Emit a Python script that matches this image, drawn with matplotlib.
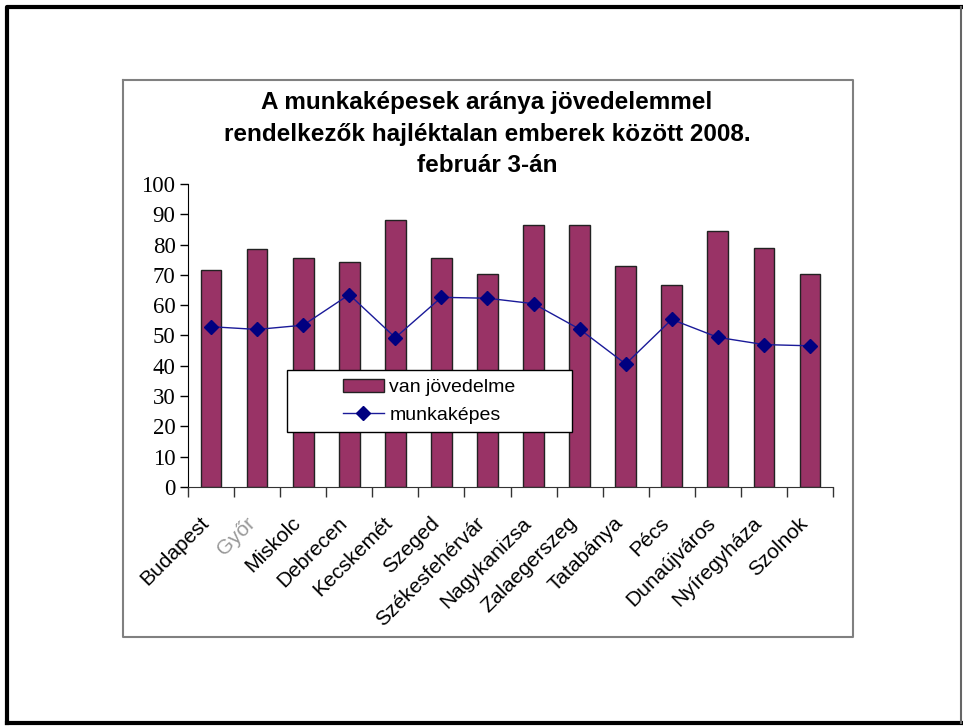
import matplotlib.pyplot as plt
from matplotlib.lines import Line2D
from matplotlib.patches import Rectangle
import matplotlib.transforms as mtransforms
import numpy as np

# data
cities = ['Budapest', 'Győr', 'Miskolc', 'Debrecen', 'Kecskemét', 'Szeged',
          'Székesfehérvár', 'Nagykanizsa', 'Zalaegerszeg', 'Tatabánya', 'Pécs',
          'Dunaújváros', 'Nyíregyháza', 'Szolnok']
van_jovedelme = [71.5, 78.4, 75.7, 74.4, 88.0, 75.7, 70.2, 86.5, 86.5, 73.0,
                 66.7, 84.5, 78.8, 70.2]
munkakepes = [52.9, 52.0, 53.4, 63.5, 49.3, 62.6, 62.3, 60.5, 52.1, 40.6,
              55.3, 49.4, 47.0, 46.6]
yticks = list(range(0, 101, 10))

W, H = 963, 726
fig = plt.figure(figsize=(W / 100, H / 100), dpi=100)

# outer frame and chart box
def px_line(xs, ys, **kw):
    fig.add_artist(Line2D([x / W for x in xs], [1 - y / H for y in ys],
                          transform=fig.transFigure, **kw))

px_line([7, 7, 961], [723, 7, 7], color='black', lw=3)
px_line([7, 961], [723, 723], color='black', lw=3)
px_line([961, 961], [7, 723], color='#666666', lw=1.5)
px_line([123, 853, 853, 123, 123], [80, 80, 637, 637, 80], color='#808080', lw=1.5)

ax = fig.add_axes([188 / W, 1 - 487 / H, 645 / W, 303 / H])
x = np.arange(len(cities))

bars = ax.bar(x, van_jovedelme, width=0.45, color='#993366', edgecolor='#222222',
              linewidth=1, label='van jövedelme', zorder=2)
line, = ax.plot(x, munkakepes, color='#1a1a99', lw=1, marker='D', markersize=7,
                markerfacecolor='#000080', markeredgecolor='#000080',
                label='munkaképes', zorder=3)

ax.set_xlim(-0.5, len(cities) - 0.5)
ax.set_ylim(0, 100)
ax.set_yticks(yticks)
ax.set_yticklabels([str(v) for v in yticks], family='Liberation Serif', fontsize=16.5)
ax.tick_params(axis='y', direction='out', length=6, width=1, pad=3)

ax.set_xticks(np.arange(-0.5, len(cities), 1.0))
ax.set_xticklabels([])
ax.tick_params(axis='x', direction='out', length=7, width=1, color='#333333')
ax.set_xticks(x, minor=True)
ax.set_xticklabels(cities, minor=True, rotation=45, ha='right', va='top',
                   rotation_mode='anchor', family='Liberation Sans', fontsize=15)
ax.tick_params(axis='x', which='minor', length=0, pad=19)
shift = mtransforms.ScaledTranslation(-0.12, 0, fig.dpi_scale_trans)
for lbl in ax.get_xticklabels(minor=True):
    lbl.set_transform(lbl.get_transform() + shift)
    if lbl.get_text() == 'Győr':
        lbl.set_color('#999999')

for s in ['top', 'right']:
    ax.spines[s].set_visible(False)
ax.spines['bottom'].set_color('#333333')

# legend box, Excel style: fixed frame with centred entries
ax.add_patch(Rectangle((0.153, 0.18), 0.442, 0.206, transform=ax.transAxes,
                       facecolor='white', edgecolor='black', lw=1, zorder=4))
leg = ax.legend([bars, line], ['van jövedelme', 'munkaképes'],
                loc='center', bbox_to_anchor=(0.374, 0.283), frameon=False,
                prop={'family': 'Liberation Sans', 'size': 14}, handlelength=2.1,
                borderpad=0, labelspacing=0.5, handletextpad=0.3)
leg.set_zorder(5)

fig.text(487 / W, 1 - 134 / H,
         'A munkaképesek aránya jövedelemmel\nrendelkezők hajléktalan emberek között 2008.\nfebruár 3-án',
         ha='center', va='center', family='Liberation Sans', fontsize=17.5,
         weight='bold', linespacing=1.5)

fig.savefig('out.png', dpi=100)
